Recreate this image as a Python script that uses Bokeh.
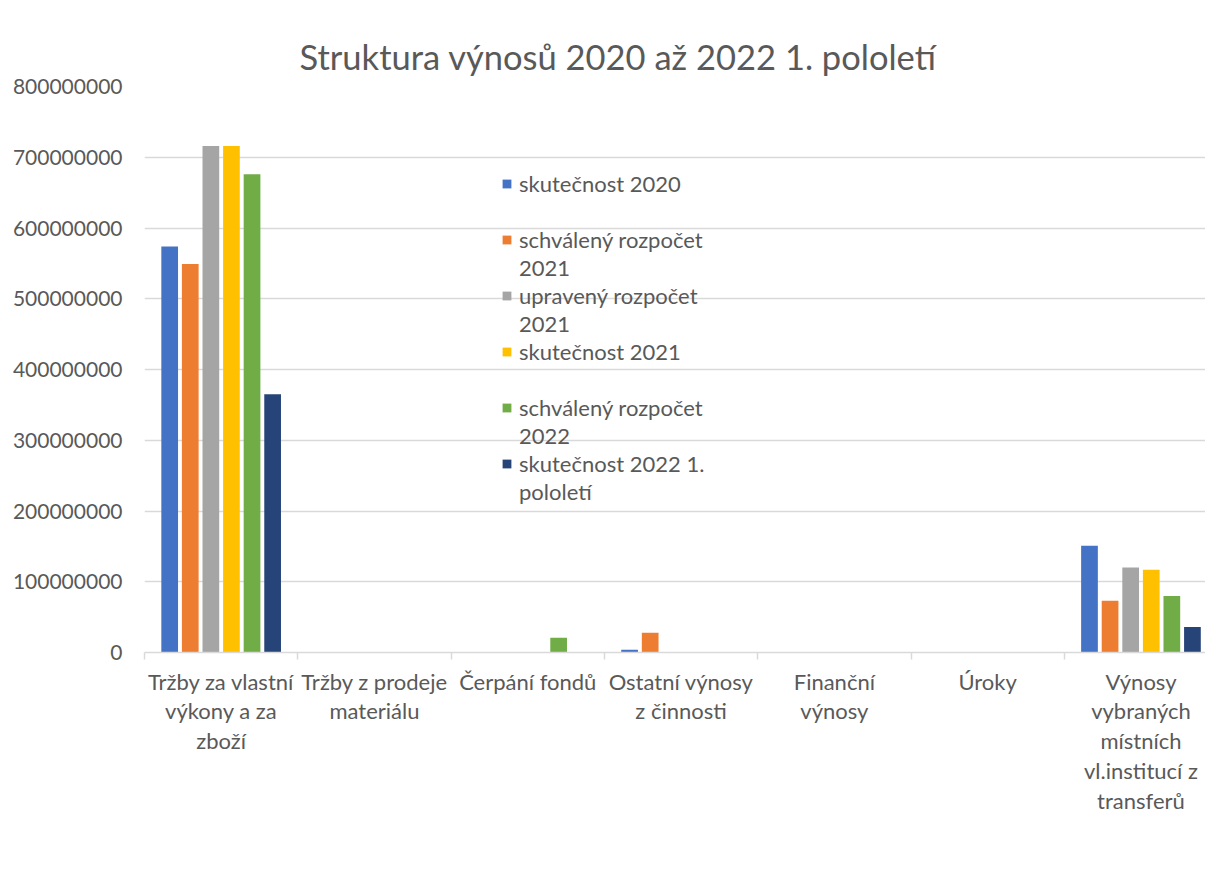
from bokeh.plotting import figure
from bokeh.models import (Range1d, FixedTicker, BasicTickFormatter, Legend, LegendItem,
                          ColumnDataSource)
from bokeh.transform import dodge
from bokeh.embed import file_html
from bokeh.resources import INLINE

title_text = "Struktura výnosů 2020 až 2022 1. pololetí"
categories = [
    "Tržby za vlastní\nvýkony a za\nzboží",
    "Tržby z prodeje\nmateriálu",
    "Čerpání fondů",
    "Ostatní výnosy\nz činnosti",
    "Finanční\nvýnosy",
    "Úroky",
    "Výnosy\nvybraných\nmístních\nvl.institucí z\ntransferů",
]
# legend label lines as laid out in the reference (name, continuation line)
series_names = [
    ("skutečnost 2020", " "),
    ("schválený rozpočet", "2021"),
    ("upravený rozpočet", "2021"),
    ("skutečnost 2021", " "),
    ("schválený rozpočet", "2022"),
    ("skutečnost 2022 1.", "pololetí"),
]
skutecnost_2020 = [574e6, 0, 0, 4e6, 0, 0, 151e6]
schvaleny_2021 = [549e6, 0, 0, 28e6, 0, 0, 73e6]
upraveny_2021 = [716e6, 0, 0, 0, 0, 0, 120e6]
skutecnost_2021 = [716e6, 0, 0, 0, 0, 0, 117e6]
schvaleny_2022 = [676e6, 0, 21e6, 0, 0, 0, 80e6]
skutecnost_2022_1pol = [365e6, 0, 0, 0, 0, 0, 36e6]
y_ticks = [0, 100e6, 200e6, 300e6, 400e6, 500e6, 600e6, 700e6, 800e6]

colors = ["#4472C4", "#ED7D31", "#A5A5A5", "#FFC000", "#70AD47", "#264478"]
TXT = "#595959"
GRID = "#D9D9D9"
FONT = "Lato"

x_pos = list(range(len(categories)))
series = [skutecnost_2020, schvaleny_2021, upraveny_2021, skutecnost_2021,
          schvaleny_2022, skutecnost_2022_1pol]
data = {"x": x_pos}
for j, s in enumerate(series):
    data[f"s{j}"] = s
src = ColumnDataSource(data)

p = figure(width=1205, height=878, output_backend="svg", toolbar_location=None,
           x_range=Range1d(-0.5, 6.421), y_range=Range1d(0, 800e6),
           min_border_left=144, min_border_right=0, min_border_top=86,
           min_border_bottom=226, background_fill_color="white",
           border_fill_color="white", outline_line_color=None)

p.title.text = title_text
p.title.align = "left"
p.title.offset = 155
p.title.standoff = 19
p.title.text_font = FONT
p.title.text_font_size = "34.5px"
p.title.text_font_style = "normal"
p.title.text_color = TXT

slot = 0.1343
bw = 0.109
renderers = []
for j in range(len(series)):
    r = p.vbar(x=dodge("x", (j - 2.5) * slot), top=f"s{j}", width=bw, source=src,
               fill_color=colors[j], line_color=None)
    renderers.append(r)
# transparent stand-in so continuation lines of legend labels carry no swatch
blank = p.vbar(x=[], top=[], width=bw, fill_alpha=0, line_alpha=0)

items = []
for j, (first, second) in enumerate(series_names):
    items.append(LegendItem(label=first, renderers=[renderers[j]]))
    items.append(LegendItem(label=second, renderers=[blank]))

legend = Legend(items=items, location=(357, 147), orientation="vertical",
                glyph_width=11, glyph_height=11, label_standoff=7,
                label_height=28, label_width=10,
                label_text_font=FONT, label_text_font_size="22px",
                label_text_color=TXT,
                background_fill_alpha=0, border_line_color=None,
                padding=0, margin=0, spacing=0)
p.add_layout(legend, "center")

xa = p.xaxis[0]
xa.ticker = FixedTicker(ticks=x_pos, minor_ticks=[i - 0.5 for i in range(8)])
xa.major_label_overrides = {i: c for i, c in enumerate(categories)}
xa.major_tick_in = 0
xa.major_tick_out = 0
xa.minor_tick_in = 0
xa.minor_tick_out = 7
xa.minor_tick_line_color = GRID
xa.minor_tick_line_width = 1.5
xa.axis_line_color = GRID
xa.axis_line_width = 1.5
xa.major_label_text_font = FONT
xa.major_label_text_font_size = "22px"
xa.major_label_text_color = TXT
xa.major_label_text_line_height = 1.11
xa.major_label_standoff = 8

ya = p.yaxis[0]
ya.ticker = FixedTicker(ticks=y_ticks)
ya.formatter = BasicTickFormatter(use_scientific=False)
ya.axis_line_color = None
ya.major_tick_in = 0
ya.major_tick_out = 0
ya.minor_tick_line_color = None
ya.major_label_text_font = FONT
ya.major_label_text_font_size = "21px"
ya.major_label_text_color = TXT
ya.major_label_standoff = 22

p.xgrid.visible = False
p.ygrid.ticker = FixedTicker(ticks=y_ticks)
p.ygrid.grid_line_color = GRID
p.ygrid.grid_line_width = 1.3

open("out.html", "w").write(file_html(p, INLINE))
